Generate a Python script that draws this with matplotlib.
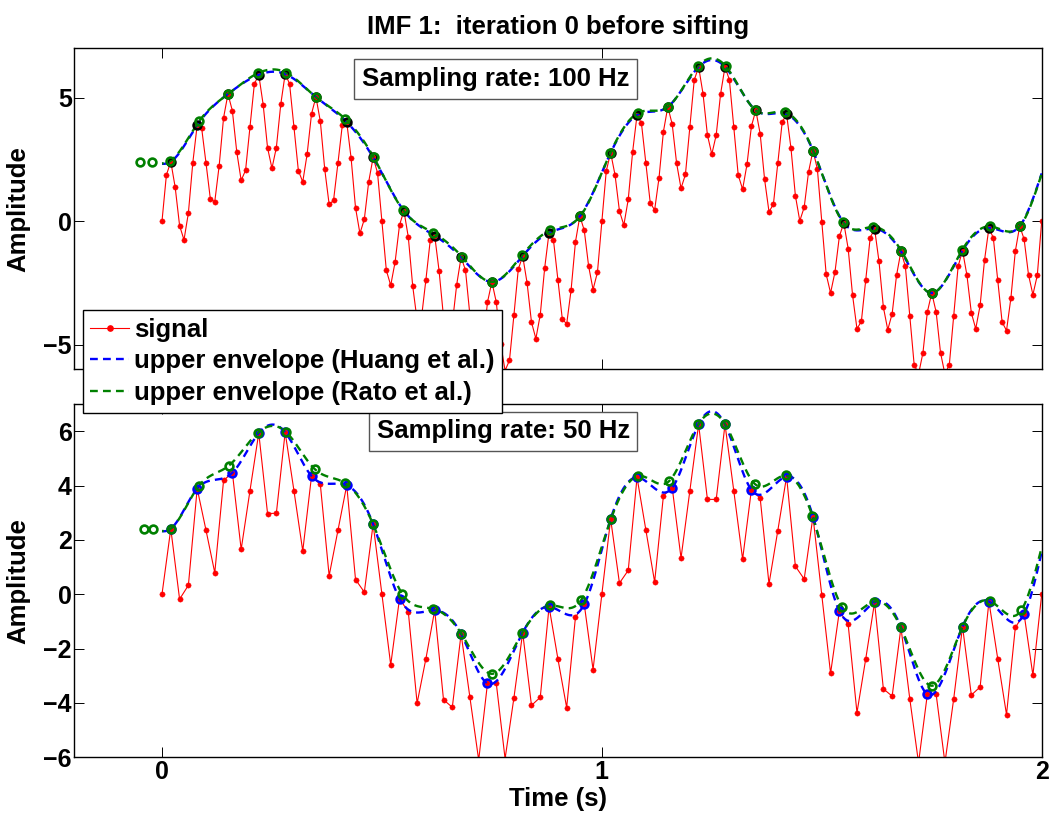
import numpy as np
import matplotlib
matplotlib.use("Agg")
import matplotlib.pyplot as plt
from matplotlib.lines import Line2D

plt.rcParams['font.family'] = ['Liberation Sans', 'DejaVu Sans']
plt.rcParams['font.weight'] = 'bold'

# ---------------- data ----------------
fs_top = 100          # Hz, upper panel
decim = 2             # lower panel (50 Hz) shows every other sample

signal_100hz = [
    0.00, 1.87, 2.41, 1.37, -0.18, -0.76, 0.33, 2.36, 3.89, 3.79,
    2.36, 0.89, 0.79, 2.25, 4.19, 5.15, 4.47, 2.80, 1.65, 2.06,
    3.81, 5.56, 5.93, 4.72, 2.97, 2.14, 2.98, 4.73, 5.96, 5.57,
    3.81, 2.05, 1.59, 2.72, 4.35, 5.03, 4.04, 2.10, 0.68, 0.84,
    2.35, 3.90, 4.01, 2.54, 0.54, -0.50, 0.08, 1.60, 2.58, 1.96,
    0.00, -1.99, -2.60, -1.65, -0.16, 0.42, -0.65, -2.63, -4.01, -3.90,
    -2.37, -0.75, -0.59, -2.02, -3.88, -4.75, -4.16, -2.57, -1.46, -1.99,
    -3.79, -5.62, -6.10, -4.97, -3.28, -2.46, -3.28, -4.98, -6.05, -5.64,
    -3.82, -1.95, -1.41, -2.50, -4.09, -4.76, -3.79, -1.90, -0.46, -0.77,
    -2.37, -3.95, -4.17, -2.80, -0.84, 0.20, -0.37, -1.83, -2.77, -2.07,
    0.00, 2.03, 2.77, 1.87, 0.41, -0.16, 0.88, 2.81, 4.30, 3.97,
    2.37, 0.74, 0.45, 1.76, 3.63, 4.63, 3.92, 2.34, 1.33, 1.89,
    3.80, 5.71, 6.25, 5.16, 3.49, 2.71, 3.49, 5.16, 6.25, 5.72,
    3.80, 1.87, 1.29, 2.30, 3.84, 4.49, 3.53, 1.69, 0.38, 0.68,
    2.34, 4.01, 4.33, 2.95, 1.03, 0.01, 0.56, 2.00, 2.86, 2.11,
    -0.03, -2.15, -2.91, -2.06, -0.62, -0.07, -1.11, -3.00, -4.36, -4.06,
    -2.37, -0.68, -0.30, -1.62, -3.48, -4.40, -3.75, -2.19, -1.22, -1.83,
    -3.84, -5.81, -6.20, -5.33, -3.68, -2.91, -3.68, -5.33, -6.20, -5.81,
    -3.84, -1.83, -1.19, -2.19, -3.71, -4.36, -3.41, -1.58, -0.27, -0.68,
    -2.37, -4.09, -4.43, -3.11, -1.22, -0.20, -0.73, -2.17, -2.98, -2.19,
    0.00,
]

# boundary-extension knots of the envelopes
ext_left_t_100 = [-0.051, -0.022]
ext_left_v_100 = [2.40, 2.40]
ext_left_t_50 = [-0.041, -0.021]
ext_left_v_50 = [2.40, 2.40]
ext_right_t = [2.02, 2.08]
ext_right_v = [3.0, 4.6]

titles = ["Sampling rate: 100 Hz", "Sampling rate: 50 Hz"]
legend_labels = ["signal", "upper envelope (Huang et al.)", "upper envelope (Rato et al.)"]
xticks = [0, 1, 2]
yticks_top = [-5, 0, 5]
yticks_bot = [-6, -4, -2, 0, 2, 4, 6]

RED = (1, 0, 0)
BLUE = (0, 0, 1)
GREEN = (0, 0.5, 0)


# ---------------- helpers ----------------
def local_max(x):
    return np.array([k for k in range(1, len(x) - 1) if x[k] > x[k - 1] and x[k] >= x[k + 1]])


def parabolic(t, x, idx):
    dt = t[1] - t[0]
    y0, y1, y2 = x[idx - 1], x[idx], x[idx + 1]
    den = y0 - 2 * y1 + y2
    d = 0.5 * (y0 - y2) / den
    return t[idx] + d * dt, y1 - 0.25 * (y0 - y2) * d


def spline_nak(xk, yk, xq):
    xk = np.asarray(xk, float)
    yk = np.asarray(yk, float)
    n = len(xk)
    h = np.diff(xk)
    A = np.zeros((n, n))
    b = np.zeros(n)
    A[0, 0] = h[1]; A[0, 1] = -(h[0] + h[1]); A[0, 2] = h[0]
    A[-1, -3] = h[-1]; A[-1, -2] = -(h[-2] + h[-1]); A[-1, -1] = h[-2]
    for i in range(1, n - 1):
        A[i, i - 1] = h[i - 1]
        A[i, i] = 2 * (h[i - 1] + h[i])
        A[i, i + 1] = h[i]
        b[i] = 6 * ((yk[i + 1] - yk[i]) / h[i] - (yk[i] - yk[i - 1]) / h[i - 1])
    M = np.linalg.solve(A, b)
    k = np.clip(np.searchsorted(xk, xq) - 1, 0, n - 2)
    x0, x1, hk = xk[k], xk[k + 1], h[k]
    return (M[k] * (x1 - xq) ** 3 / (6 * hk) + M[k + 1] * (xq - x0) ** 3 / (6 * hk)
            + (yk[k] / hk - M[k] * hk / 6) * (x1 - xq)
            + (yk[k + 1] / hk - M[k + 1] * hk / 6) * (xq - x0))


# ---------------- figure ----------------
fig = plt.figure(figsize=(10.5, 8.19), dpi=100)
ax_top = fig.add_axes([0.0705, 0.5491, 0.9216, 0.3919])
ax_bot = fig.add_axes([0.0705, 0.0753, 0.9216, 0.4314])

sig100 = np.array(signal_100hz)
t100 = np.arange(len(sig100)) / fs_top
sig50 = sig100[::decim]
t50 = t100[::decim]

dash = (0, (3.3, 2.2))
dash_g = (2.6, (3.3, 2.2))
CIRC_MS = 5.6
CIRC_MEW = 1.9

panels = [
    (ax_top, t100, sig100, ext_left_t_100, ext_left_v_100, 'k', yticks_top, titles[0], (0.4356, 0.904)),
    (ax_bot, t50, sig50, ext_left_t_50, ext_left_v_50, BLUE, yticks_bot, titles[1], (0.4435, 0.9227)),
]

for ax, t, x, elt, elv, hcol, yt, txt, tpos in panels:
    imax = local_max(x)
    th, vh = t[imax], x[imax]
    tr, vr = parabolic(t, x, imax)
    tq = np.linspace(0, 2, 1200)
    env_h = spline_nak(np.r_[elt, th, ext_right_t], np.r_[elv, vh, ext_right_v], tq)
    env_r = spline_nak(np.r_[elt, tr, ext_right_t], np.r_[elv, vr, ext_right_v], tq)

    ax.plot(t, x, '-', color=RED, lw=0.8, marker='o', ms=3.8, mfc=RED, mec=RED, mew=0.3, zorder=2)
    ax.plot(tq, env_h, color=BLUE, lw=1.7, ls=dash, zorder=3)
    ax.plot(tq, env_r, color=GREEN, lw=1.7, ls=dash_g, zorder=4)
    ax.plot(th, vh, 'o', mfc='none', mec=hcol, ms=CIRC_MS, mew=CIRC_MEW, zorder=5)
    ax.plot(np.r_[elt, tr], np.r_[elv, vr], 'o', mfc='none', mec=GREEN, ms=CIRC_MS, mew=CIRC_MEW, zorder=6)

    ax.set_xlim(-0.2, 2)
    ax.set_ylim(-6, 7)
    ax.set_xticks(xticks)
    ax.set_yticks(yt)
    ax.tick_params(direction='in', length=7, width=0.7, top=True, right=True,
                   labelsize=18, pad=2)
    ax.tick_params(axis='y', pad=1.5)
    for s in ax.spines.values():
        s.set_linewidth(1.0)
    ax.set_ylabel('Amplitude', fontsize=18.5, fontweight='bold')
    ax.yaxis.set_label_coords(-0.045, 0.5)
    ax.text(tpos[0], tpos[1], txt, transform=ax.transAxes, ha='center', va='center',
            fontsize=18.5, fontweight='bold', zorder=10,
            bbox=dict(boxstyle='square,pad=0.3', fc='white', ec='#555555', lw=1.0))

ax_top.set_xticklabels([])
ax_bot.set_xlabel('Time (s)', fontsize=18.5, fontweight='bold')
ax_bot.xaxis.set_label_coords(0.5, -0.083)
ax_top.set_title('IMF 1:  iteration 0 before sifting', fontsize=18.5, fontweight='bold', pad=10)

handles = [
    Line2D([], [], color=RED, lw=0.8, marker='o', ms=3.8, mfc=RED, mec=RED),
    Line2D([], [], color=BLUE, lw=1.7, ls=dash),
    Line2D([], [], color=GREEN, lw=1.7, ls=dash),
]
leg = fig.legend(handles, legend_labels, loc='upper left', bbox_to_anchor=(0.0788, 0.6215),
                 bbox_transform=fig.transFigure, fontsize=18.5, frameon=True, fancybox=False,
                 framealpha=1, edgecolor='black', borderpad=0.3, labelspacing=0.3,
                 handlelength=1.5, handletextpad=0.2, borderaxespad=0, numpoints=1)
leg.get_frame().set_linewidth(1.0)
for txt in leg.get_texts():
    txt.set_fontweight('bold')

fig.savefig('out.png', dpi=100)
